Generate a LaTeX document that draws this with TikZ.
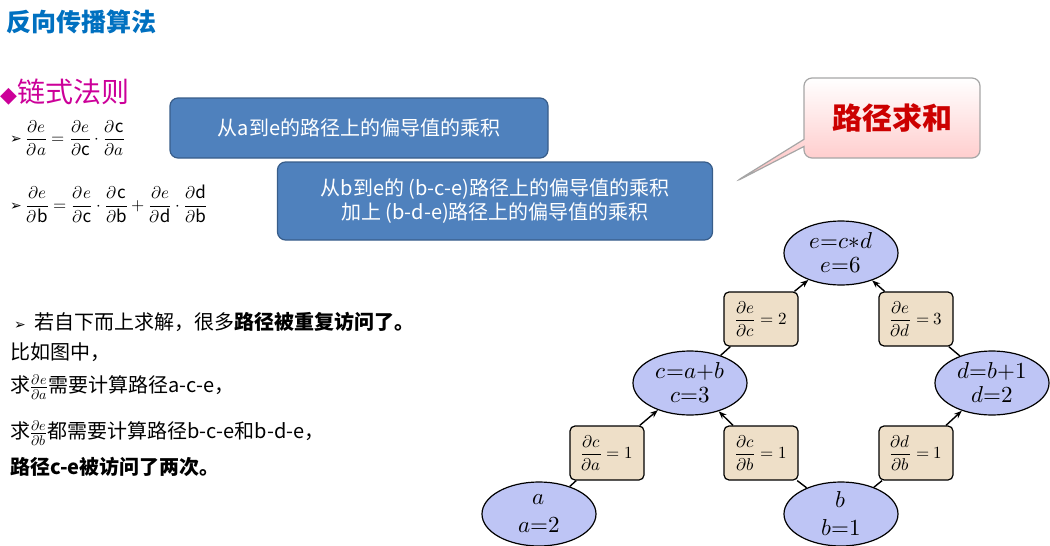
\documentclass[tikz,border=0pt]{standalone}
\usepackage{amsmath}
\usepackage{fontspec}
\usepackage{unicode-math}
\setmainfont{Noto Sans CJK SC}
\setmathfont{Latin Modern Math}
\newfontfamily\djv{DejaVu Sans}
\usetikzlibrary{shapes.geometric,shapes.callouts,arrows.meta}
\definecolor{ttl}{RGB}{0,112,192}
\definecolor{pk}{RGB}{204,0,153}
\definecolor{bbox}{RGB}{79,129,189}
\definecolor{bbord}{RGB}{56,93,138}
\definecolor{ell}{RGB}{190,197,245}
\definecolor{tan}{RGB}{238,223,200}
\begin{document}
\begin{tikzpicture}[x=1pt,y=-1pt,
  ev/.style={ellipse,draw=black,line width=1.2pt,fill=ell,minimum width=114pt,minimum height=64pt,inner sep=0pt,font=\fontsize{23}{24}\selectfont,align=center},
  gb/.style={rounded corners=5pt,draw=black,line width=1.2pt,fill=tan,minimum width=74pt,minimum height=54pt,inner sep=1pt,font=\fontsize{17}{18}\selectfont},
  bl/.style={rounded corners=8pt,draw=bbord,line width=1.2pt,fill=bbox,text=white,font=\fontsize{20}{24}\selectfont,align=center},
  ar/.style={line width=1.4pt,-{Stealth[length=8pt,width=6pt]}},
  ln/.style={line width=1.4pt},
  tx/.style={anchor=west,inner sep=0pt,font=\fontsize{20}{22}\selectfont}]
\useasboundingbox (0,0) rectangle (1050,546);
\node[anchor=west,inner sep=0pt,text=ttl,font=\fontsize{25}{26}\selectfont\bfseries] (title) at (6,22) {反向传播算法};
\node[anchor=west,inner sep=0pt,text=pk,font=\fontsize{28}{30}\selectfont] (chain) at (0,92) {{\djv\fontsize{22}{24}\selectfont◆}链式法则};
\node[anchor=west,inner sep=0pt,font=\fontsize{17}{20}\selectfont] (f1) at (10,138) {{\djv\fontsize{14}{16}\selectfont ➢}\ $\dfrac{\partial e}{\partial a}=\dfrac{\partial e}{\partial \mathrm{c}}\cdot\dfrac{\partial \mathrm{c}}{\partial a}$};
\node[anchor=west,inner sep=0pt,font=\fontsize{17}{20}\selectfont] (f2) at (10,204) {{\djv\fontsize{14}{16}\selectfont ➢}\ $\dfrac{\partial e}{\partial \mathrm{b}}=\dfrac{\partial e}{\partial \mathrm{c}}\cdot\dfrac{\partial \mathrm{c}}{\partial \mathrm{b}}+\dfrac{\partial e}{\partial \mathrm{d}}\cdot\dfrac{\partial \mathrm{d}}{\partial \mathrm{b}}$};
\node[bl,minimum width=378pt,minimum height=60pt] (b1) at (359,128) {从a到e的路径上的偏导值的乘积};
\node[bl,minimum width=435pt,minimum height=78pt] (b2) at (495,201) {从b到e的 (b-c-e)路径上的偏导值的乘积\\加上 (b-d-e)路径上的偏导值的乘积};
\node[rectangle callout,rounded corners=8pt,draw=gray!70,line width=1.2pt,top color=white,bottom color=red!25,minimum width=176pt,minimum height=80pt,callout absolute pointer={(735,182)},text=red!80!black,font=\fontsize{30}{32}\selectfont\bfseries] (sum) at (892,118) {路径求和};
\node[tx] (l1) at (14,322) {{\djv\fontsize{14}{16}\selectfont ➢}\ \ 若自下而上求解，很多\textbf{路径被重复访问了。}};
\node[tx] (l2) at (10,352) {比如图中，};
\node[tx] (l3) at (10,387) {求$\frac{\partial e}{\partial a}$需要计算路径a-c-e，};
\node[tx] (l4) at (10,433) {求$\frac{\partial e}{\partial b}$都需要计算路径b-c-e和b-d-e，};
\node[tx] (l5) at (10,467) {\textbf{路径c-e被访问了两次。}};
% graph
\node[ev] (e) at (841,253) {$e{=}c{*}d$\\[0pt]$e{=}6$};
\node[ev] (c) at (690,383) {$c{=}a{+}b$\\[0pt]$c{=}3$};
\node[ev] (d) at (992,383) {$d{=}b{+}1$\\[0pt]$d{=}2$};
\node[ev] (a) at (539,514) {$a$\\[4pt]$a{=}2$};
\node[ev] (b) at (841,514) {$b$\\[4pt]$b{=}1$};
\node[gb] (gec) at (761,319) {$\dfrac{\partial e}{\partial c}=2$};
\node[gb] (ged) at (916,319) {$\dfrac{\partial e}{\partial d}=3$};
\node[gb] (gca) at (607,453) {$\dfrac{\partial c}{\partial a}=1$};
\node[gb] (gcb) at (761,453) {$\dfrac{\partial c}{\partial b}=1$};
\node[gb] (gdb) at (916,453) {$\dfrac{\partial d}{\partial b}=1$};
\draw[ln] (a) -- (gca); \draw[ar] (gca) -- (c);
\draw[ln] (b) -- (gcb); \draw[ar] (gcb) -- (c);
\draw[ln] (b) -- (gdb); \draw[ar] (gdb) -- (d);
\draw[ln] (c) -- (gec); \draw[ar] (gec) -- (e);
\draw[ln] (d) -- (ged); \draw[ar] (ged) -- (e);
\end{tikzpicture}
\end{document}
